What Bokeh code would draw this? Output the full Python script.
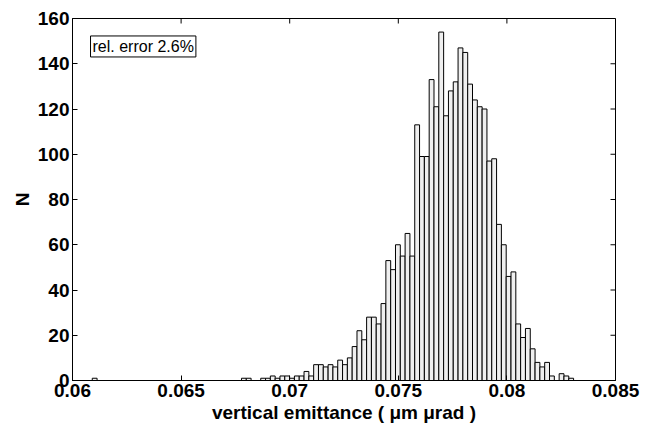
import numpy as np
from bokeh.plotting import figure
from bokeh.models import Range1d, FixedTicker, Label
from bokeh.embed import file_html
from bokeh.resources import INLINE

# ---- data ----
emit_min = 0.06091
emit_max = 0.08307
counts = [
    1, 0, 0, 0, 0, 0, 0, 0, 0, 0,
    0, 0, 0, 0, 0, 0, 0, 0, 0, 0,
    0, 0, 0, 0, 0, 0, 0, 0, 0, 0,
    0, 1, 1, 0, 0, 1, 1, 2, 1, 2,
    2, 1, 2, 2, 4, 2, 7, 7, 6, 7,
    6, 9, 7, 10, 15, 22, 18, 28, 28, 25,
    34, 53, 49, 60, 55, 65, 55, 113, 99, 99,
    133, 121, 154, 117, 128, 132, 147, 145, 131, 124,
    121, 120, 97, 98, 69, 60, 46, 48, 25, 19,
    23, 14, 8, 6, 8, 2, 0, 3, 2, 1,
]
x_ticks = [0.06, 0.065, 0.07, 0.075, 0.08, 0.085]
x_tick_labels = ["0.06", "0.065", "0.07", "0.075", "0.08", "0.085"]
y_ticks = [0, 20, 40, 60, 80, 100, 120, 140, 160]
x_label = "vertical emittance ( \u03bcm \u03bcrad )"
y_label = "N"
note_text = "rel. error 2.6%"

x_lo, x_hi = x_ticks[0], x_ticks[-1]
y_lo, y_hi = y_ticks[0], y_ticks[-1]
edges = np.linspace(emit_min, emit_max, len(counts) + 1)

FONT = "Liberation Sans"

p = figure(width=657, height=426,
           x_range=Range1d(x_lo, x_hi), y_range=Range1d(y_lo, y_hi),
           output_backend="svg", toolbar_location=None,
           min_border_left=72, min_border_right=42,
           min_border_top=18, min_border_bottom=46)

p.quad(left=edges[:-1], right=edges[1:], top=counts, bottom=0,
       fill_color="#efefef", line_color="black", line_width=1)

# inward ticks on the top and right edges of the box (MATLAB style)
p.ray(x=x_ticks, y=[y_hi] * len(x_ticks), length=5, length_units="screen",
      angle=-np.pi / 2, line_color="black", line_width=1)
p.ray(x=[x_hi] * len(y_ticks), y=y_ticks, length=5, length_units="screen",
      angle=np.pi, line_color="black", line_width=1)

p.xgrid.visible = False
p.ygrid.visible = False
p.outline_line_color = "black"
p.outline_line_width = 1
p.background_fill_color = "white"
p.border_fill_color = "white"

def style(ax, ticks):
    ax.ticker = FixedTicker(ticks=ticks)
    ax.major_tick_in = 5
    ax.major_tick_out = 0
    ax.minor_tick_line_color = None
    ax.axis_line_color = "black"
    ax.major_tick_line_color = "black"
    ax.major_label_text_font = FONT
    ax.major_label_text_font_style = "bold"
    ax.major_label_text_font_size = "19px"
    ax.major_label_text_color = "black"
    ax.major_label_standoff = 3
    ax.axis_label_text_font = FONT
    ax.axis_label_text_font_style = "bold"
    ax.axis_label_text_font_size = "19px"
    ax.axis_label_text_color = "black"
    ax.axis_label_standoff = 2

xa = p.xaxis[0]
style(xa, x_ticks)
xa.major_label_overrides = {t: l for t, l in zip(x_ticks, x_tick_labels)}
xa.axis_label = x_label

ya = p.yaxis[0]
style(ya, y_ticks)
ya.axis_label = y_label

note = Label(x=0.06083, y=143, text=note_text,
             text_font=FONT, text_font_size="16px",
             text_color="black", text_baseline="bottom",
             border_line_color="black", border_line_width=1,
             background_fill_color="white", padding=2)
p.add_layout(note)

open("out.html", "w").write(file_html(p, INLINE))
